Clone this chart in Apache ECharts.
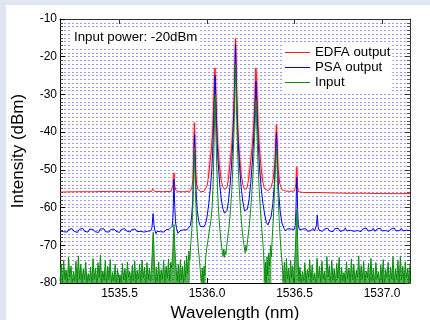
<!DOCTYPE html>
<html><head><meta charset="utf-8">
<script src="https://cdn.jsdelivr.net/npm/echarts@6/dist/echarts.min.js"></script>
<style>
html,body{margin:0;padding:0;background:#dfe6f2;width:430px;height:320px;overflow:hidden;}
#panel{position:absolute;left:6px;top:5px;width:424px;height:315px;background:#fff;}
#chart{position:absolute;left:0;top:0;width:430px;height:320px;}
</style></head>
<body><div id="panel"></div><div id="chart"></div>
<script>
var xTicks = [1535.5, 1536.0, 1536.5, 1537.0];
var yTicks = [-80, -70, -60, -50, -40, -30, -20, -10];
var seriesNames = ['EDFA output', 'PSA output', 'Input'];
var annotation = 'Input power: -20dBm';

var edfa = [[1535.160,-55.9],[1535.250,-55.8],[1535.350,-55.8],[1535.450,-55.7],[1535.550,-55.8],[1535.650,-55.7],[1535.684,-55.7],[1535.689,-55.0],[1535.692,-54.5],[1535.695,-55.2],[1535.700,-55.7],[1535.750,-55.8],[1535.795,-55.7],[1535.802,-55.2],[1535.806,-53.8],[1535.809,-52.0],[1535.811,-50.8],[1535.813,-52.2],[1535.816,-54.3],[1535.821,-55.4],[1535.835,-55.8],[1535.880,-55.8],[1535.905,-55.6],[1535.913,-54.8],[1535.919,-52.5],[1535.923,-48.0],[1535.925,-44.0],[1535.927,-39.5],[1535.928,-37.5],[1535.930,-40.5],[1535.932,-45.0],[1535.935,-50.0],[1535.940,-53.5],[1535.948,-55.2],[1535.965,-55.8],[1535.982,-55.7],[1535.992,-55.3],[1536.000,-54.3],[1536.008,-52.0],[1536.016,-48.5],[1536.025,-44.5],[1536.032,-40.0],[1536.037,-34.0],[1536.041,-28.0],[1536.044,-24.0],[1536.046,-23.0],[1536.048,-25.0],[1536.051,-30.0],[1536.055,-37.0],[1536.061,-43.0],[1536.070,-48.5],[1536.080,-52.5],[1536.090,-54.5],[1536.100,-55.2],[1536.107,-55.3],[1536.113,-54.8],[1536.122,-52.5],[1536.130,-49.0],[1536.140,-44.5],[1536.148,-39.0],[1536.154,-33.0],[1536.158,-26.0],[1536.161,-19.0],[1536.163,-15.2],[1536.165,-19.0],[1536.168,-26.0],[1536.172,-34.0],[1536.178,-41.0],[1536.186,-46.5],[1536.195,-51.0],[1536.205,-54.0],[1536.215,-55.2],[1536.222,-55.3],[1536.228,-54.9],[1536.238,-52.5],[1536.248,-48.5],[1536.258,-44.0],[1536.266,-39.0],[1536.272,-33.0],[1536.276,-27.0],[1536.279,-23.0],[1536.281,-22.6],[1536.283,-25.0],[1536.287,-31.0],[1536.292,-38.0],[1536.299,-44.0],[1536.308,-49.0],[1536.318,-53.0],[1536.328,-55.0],[1536.338,-55.5],[1536.350,-55.5],[1536.365,-54.8],[1536.378,-52.5],[1536.387,-48.5],[1536.392,-44.0],[1536.395,-40.0],[1536.397,-38.0],[1536.399,-40.0],[1536.402,-45.0],[1536.407,-50.0],[1536.415,-53.5],[1536.428,-55.2],[1536.445,-55.6],[1536.470,-55.7],[1536.500,-55.6],[1536.506,-55.2],[1536.509,-53.5],[1536.511,-51.0],[1536.513,-49.3],[1536.515,-51.5],[1536.518,-54.5],[1536.523,-55.8],[1536.550,-56.0],[1536.600,-56.0],[1536.626,-56.0],[1536.630,-55.7],[1536.634,-56.0],[1536.700,-56.1],[1536.800,-56.2],[1536.900,-56.2],[1537.000,-56.3],[1537.100,-56.3],[1537.160,-56.3]];

var psa = [[1535.160,-66.2],[1535.170,-65.7],[1535.180,-66.4],[1535.190,-65.9],[1535.200,-66.5],[1535.210,-65.8],[1535.220,-66.1],[1535.230,-65.6],[1535.240,-66.3],[1535.250,-65.9],[1535.260,-66.6],[1535.270,-65.8],[1535.280,-66.2],[1535.290,-65.5],[1535.300,-66.3],[1535.310,-66.0],[1535.320,-66.5],[1535.330,-65.7],[1535.340,-66.2],[1535.350,-65.8],[1535.360,-66.4],[1535.370,-65.9],[1535.380,-66.6],[1535.390,-65.7],[1535.400,-66.1],[1535.410,-65.6],[1535.420,-66.4],[1535.430,-66.0],[1535.440,-66.5],[1535.450,-65.8],[1535.460,-66.2],[1535.470,-65.7],[1535.480,-66.3],[1535.490,-65.9],[1535.500,-66.6],[1535.510,-65.8],[1535.520,-66.3],[1535.530,-65.6],[1535.540,-66.2],[1535.550,-65.9],[1535.560,-66.5],[1535.570,-65.8],[1535.580,-66.1],[1535.590,-65.7],[1535.600,-66.4],[1535.610,-65.9],[1535.620,-66.3],[1535.630,-65.8],[1535.640,-66.5],[1535.650,-66.0],[1535.660,-66.3],[1535.670,-65.9],[1535.680,-66.1],[1535.685,-65.4],[1535.688,-64.0],[1535.690,-62.4],[1535.692,-61.6],[1535.694,-62.6],[1535.697,-64.6],[1535.702,-66.0],[1535.708,-66.9],[1535.715,-66.3],[1535.725,-65.8],[1535.735,-66.4],[1535.745,-66.0],[1535.755,-66.5],[1535.765,-65.9],[1535.775,-66.3],[1535.785,-65.7],[1535.793,-65.8],[1535.800,-65.0],[1535.804,-63.5],[1535.807,-60.5],[1535.809,-56.0],[1535.811,-52.5],[1535.813,-55.5],[1535.816,-60.0],[1535.820,-63.8],[1535.826,-65.6],[1535.834,-66.8],[1535.845,-66.2],[1535.855,-66.5],[1535.865,-65.9],[1535.875,-66.3],[1535.885,-65.9],[1535.895,-65.6],[1535.905,-64.8],[1535.912,-62.5],[1535.918,-58.5],[1535.922,-53.0],[1535.925,-47.0],[1535.927,-42.0],[1535.929,-40.5],[1535.931,-44.0],[1535.934,-50.0],[1535.938,-56.0],[1535.944,-60.5],[1535.952,-63.5],[1535.962,-65.0],[1535.972,-65.4],[1535.982,-65.1],[1535.992,-64.3],[1536.000,-62.5],[1536.010,-59.0],[1536.020,-54.5],[1536.028,-49.5],[1536.034,-43.5],[1536.039,-36.0],[1536.043,-29.0],[1536.046,-25.0],[1536.049,-29.0],[1536.053,-36.0],[1536.058,-43.0],[1536.065,-49.0],[1536.073,-54.0],[1536.082,-58.0],[1536.092,-60.5],[1536.100,-61.5],[1536.107,-61.4],[1536.114,-60.8],[1536.122,-58.5],[1536.131,-54.5],[1536.140,-49.0],[1536.148,-42.0],[1536.154,-34.0],[1536.158,-27.0],[1536.161,-20.5],[1536.163,-16.8],[1536.165,-20.5],[1536.168,-27.0],[1536.172,-35.0],[1536.178,-42.5],[1536.186,-49.0],[1536.195,-54.5],[1536.205,-58.5],[1536.214,-60.8],[1536.222,-61.3],[1536.230,-60.5],[1536.240,-58.0],[1536.250,-53.5],[1536.259,-48.0],[1536.267,-41.5],[1536.273,-35.0],[1536.277,-30.0],[1536.280,-26.5],[1536.283,-30.0],[1536.287,-36.0],[1536.293,-43.0],[1536.300,-49.5],[1536.310,-55.0],[1536.320,-59.0],[1536.330,-62.0],[1536.340,-64.0],[1536.348,-64.6],[1536.356,-64.3],[1536.366,-62.5],[1536.376,-59.0],[1536.384,-54.5],[1536.390,-48.5],[1536.394,-43.0],[1536.397,-40.0],[1536.400,-44.0],[1536.404,-50.0],[1536.410,-56.0],[1536.418,-61.0],[1536.428,-64.0],[1536.440,-65.5],[1536.450,-66.2],[1536.460,-65.6],[1536.470,-66.1],[1536.480,-65.7],[1536.490,-66.2],[1536.498,-65.8],[1536.504,-64.8],[1536.508,-61.0],[1536.511,-55.5],[1536.513,-52.0],[1536.515,-55.0],[1536.518,-60.5],[1536.522,-64.5],[1536.528,-65.9],[1536.535,-66.4],[1536.545,-65.7],[1536.555,-66.2],[1536.565,-65.6],[1536.575,-66.3],[1536.585,-65.8],[1536.595,-66.1],[1536.605,-65.5],[1536.615,-66.2],[1536.622,-65.8],[1536.626,-64.6],[1536.628,-63.2],[1536.630,-62.0],[1536.632,-63.0],[1536.635,-65.0],[1536.640,-66.0],[1536.650,-65.6],[1536.660,-66.3],[1536.670,-65.7],[1536.680,-66.1],[1536.690,-65.5],[1536.700,-66.2],[1536.710,-65.8],[1536.720,-66.4],[1536.730,-65.6],[1536.740,-66.0],[1536.750,-65.5],[1536.760,-66.3],[1536.770,-65.8],[1536.780,-66.1],[1536.790,-65.4],[1536.800,-66.2],[1536.810,-65.7],[1536.820,-66.0],[1536.830,-65.5],[1536.840,-66.3],[1536.850,-65.8],[1536.860,-66.1],[1536.870,-65.6],[1536.880,-66.4],[1536.890,-65.7],[1536.900,-66.0],[1536.910,-65.4],[1536.920,-66.2],[1536.930,-65.8],[1536.940,-66.1],[1536.950,-65.5],[1536.960,-66.3],[1536.970,-65.7],[1536.980,-66.0],[1536.990,-65.5],[1537.000,-66.2],[1537.010,-65.8],[1537.020,-66.1],[1537.030,-65.6],[1537.040,-66.3],[1537.050,-65.7],[1537.060,-66.0],[1537.070,-65.4],[1537.080,-66.2],[1537.090,-65.8],[1537.100,-66.1],[1537.110,-65.5],[1537.120,-66.2],[1537.130,-65.7],[1537.140,-66.0],[1537.150,-65.6],[1537.160,-66.1]];

var input = [[1535.160,-79.5],[1535.167,-75.2],[1535.174,-80],[1535.181,-74.0],[1535.188,-79],[1535.195,-76.5],[1535.202,-80],[1535.209,-73.2],[1535.216,-78.5],[1535.223,-75.5],[1535.230,-80],[1535.237,-77.0],[1535.244,-79.5],[1535.251,-74.2],[1535.258,-80],[1535.265,-72.8],[1535.272,-79],[1535.279,-75.0],[1535.286,-80],[1535.293,-76.2],[1535.300,-78.8],[1535.307,-74.5],[1535.314,-80],[1535.321,-77.5],[1535.328,-79.5],[1535.335,-75.8],[1535.342,-80],[1535.349,-73.5],[1535.356,-79],[1535.363,-76.0],[1535.370,-80],[1535.377,-74.6],[1535.384,-78.5],[1535.391,-72.6],[1535.398,-80],[1535.405,-76.8],[1535.412,-79.3],[1535.419,-74.0],[1535.426,-80],[1535.433,-75.6],[1535.440,-78.8],[1535.447,-73.8],[1535.454,-80],[1535.461,-77.2],[1535.468,-79.5],[1535.475,-75.0],[1535.482,-80],[1535.489,-76.4],[1535.496,-78.6],[1535.503,-77.8],[1535.510,-80],[1535.517,-74.8],[1535.524,-79.2],[1535.531,-76.2],[1535.538,-80],[1535.545,-74.4],[1535.552,-78.5],[1535.559,-77.0],[1535.566,-80],[1535.573,-75.3],[1535.580,-79.4],[1535.587,-74.1],[1535.594,-80],[1535.601,-76.6],[1535.608,-79],[1535.615,-75.0],[1535.622,-80],[1535.629,-73.9],[1535.636,-78.6],[1535.643,-75.8],[1535.650,-80],[1535.657,-74.6],[1535.664,-79],[1535.671,-76.0],[1535.678,-79.5],[1535.684,-75.0],[1535.688,-71.0],[1535.691,-67.5],[1535.693,-66.5],[1535.695,-68.5],[1535.698,-73.0],[1535.702,-77.5],[1535.706,-80],[1535.710,-75.8],[1535.717,-79.5],[1535.724,-74.4],[1535.731,-80],[1535.738,-76.5],[1535.745,-79],[1535.752,-74.0],[1535.759,-80],[1535.766,-75.5],[1535.773,-78.8],[1535.780,-73.6],[1535.787,-79.5],[1535.793,-74.5],[1535.798,-76.0],[1535.803,-73.0],[1535.806,-70.0],[1535.809,-66.5],[1535.811,-64.5],[1535.813,-66.5],[1535.816,-70.5],[1535.820,-74.0],[1535.825,-77.0],[1535.830,-79.5],[1535.836,-75.0],[1535.842,-80],[1535.848,-73.8],[1535.854,-79],[1535.860,-75.6],[1535.866,-80],[1535.872,-74.2],[1535.878,-78.5],[1535.884,-72.8],[1535.890,-77.5],[1535.896,-71.5],[1535.902,-74.0],[1535.908,-69.0],[1535.913,-66.0],[1535.918,-61.0],[1535.922,-55.0],[1535.925,-49.0],[1535.928,-44.0],[1535.931,-49.0],[1535.934,-55.5],[1535.938,-61.0],[1535.943,-66.0],[1535.950,-70.5],[1535.957,-74.0],[1535.963,-77.5],[1535.968,-79.5],[1535.973,-76.0],[1535.978,-80],[1535.983,-75.5],[1535.988,-78.0],[1535.993,-73.0],[1535.998,-71.0],[1536.006,-68.5],[1536.014,-66.0],[1536.022,-63.5],[1536.029,-60.0],[1536.034,-55.0],[1536.038,-48.0],[1536.042,-39.0],[1536.044,-34.0],[1536.046,-30.0],[1536.048,-33.5],[1536.051,-40.0],[1536.055,-48.0],[1536.060,-55.0],[1536.066,-61.0],[1536.073,-65.5],[1536.080,-69.0],[1536.087,-71.5],[1536.092,-73.0],[1536.096,-71.0],[1536.100,-73.2],[1536.104,-71.5],[1536.108,-72.5],[1536.112,-70.5],[1536.118,-68.0],[1536.126,-65.0],[1536.134,-61.0],[1536.141,-56.0],[1536.147,-50.0],[1536.152,-43.0],[1536.156,-36.0],[1536.159,-29.0],[1536.161,-25.0],[1536.163,-22.0],[1536.165,-25.0],[1536.168,-31.0],[1536.171,-38.0],[1536.175,-45.0],[1536.180,-51.0],[1536.186,-56.5],[1536.193,-61.5],[1536.200,-65.5],[1536.207,-68.5],[1536.213,-70.5],[1536.218,-72.0],[1536.222,-70.0],[1536.226,-71.5],[1536.232,-68.5],[1536.240,-65.5],[1536.248,-61.5],[1536.255,-57.0],[1536.262,-52.0],[1536.268,-46.0],[1536.273,-40.0],[1536.277,-35.0],[1536.280,-31.5],[1536.283,-35.5],[1536.287,-42.0],[1536.292,-49.0],[1536.298,-55.0],[1536.305,-60.5],[1536.312,-65.0],[1536.318,-68.5],[1536.323,-72.0],[1536.327,-75.0],[1536.331,-79.5],[1536.335,-74.5],[1536.339,-80],[1536.343,-73.0],[1536.347,-78.0],[1536.352,-72.0],[1536.358,-75.5],[1536.363,-70.0],[1536.368,-73.0],[1536.373,-67.5],[1536.378,-64.0],[1536.383,-59.0],[1536.387,-54.0],[1536.391,-49.0],[1536.394,-46.0],[1536.397,-44.0],[1536.400,-47.0],[1536.403,-52.0],[1536.407,-57.5],[1536.412,-63.0],[1536.418,-68.0],[1536.424,-72.0],[1536.430,-75.0],[1536.436,-79.5],[1536.442,-74.5],[1536.448,-80],[1536.454,-73.5],[1536.460,-79],[1536.466,-76.0],[1536.472,-80],[1536.478,-74.0],[1536.484,-78.6],[1536.490,-75.5],[1536.496,-80],[1536.501,-74.0],[1536.505,-71.0],[1536.508,-67.0],[1536.511,-62.5],[1536.513,-60.5],[1536.515,-63.0],[1536.518,-68.5],[1536.521,-74.0],[1536.525,-79.5],[1536.531,-75.8],[1536.538,-80],[1536.545,-77.0],[1536.552,-79.5],[1536.559,-74.6],[1536.566,-80],[1536.573,-76.4],[1536.580,-78.5],[1536.587,-73.8],[1536.594,-80],[1536.601,-75.2],[1536.608,-79.2],[1536.615,-77.4],[1536.622,-80],[1536.629,-73.4],[1536.636,-78.6],[1536.643,-75.6],[1536.650,-80],[1536.657,-74.2],[1536.664,-79],[1536.671,-76.8],[1536.678,-80],[1536.685,-73.0],[1536.692,-78.4],[1536.699,-75.4],[1536.706,-80],[1536.713,-74.0],[1536.720,-79.3],[1536.727,-76.2],[1536.734,-80],[1536.741,-74.8],[1536.748,-78.7],[1536.755,-73.2],[1536.762,-80],[1536.769,-75.8],[1536.776,-79.5],[1536.783,-77.2],[1536.790,-80],[1536.797,-74.4],[1536.804,-78.8],[1536.811,-76.0],[1536.818,-80],[1536.825,-73.6],[1536.832,-79.2],[1536.839,-75.0],[1536.846,-80],[1536.853,-76.6],[1536.860,-78.5],[1536.867,-72.8],[1536.874,-80],[1536.881,-75.4],[1536.888,-79],[1536.895,-74.2],[1536.902,-80],[1536.909,-76.8],[1536.916,-78.6],[1536.923,-74.8],[1536.930,-80],[1536.937,-73.5],[1536.944,-79.4],[1536.951,-76.0],[1536.958,-80],[1536.965,-74.6],[1536.972,-78.8],[1536.979,-77.0],[1536.986,-80],[1536.993,-75.2],[1537.000,-79.2],[1537.007,-73.8],[1537.014,-80],[1537.021,-76.4],[1537.028,-78.5],[1537.035,-74.5],[1537.042,-80],[1537.049,-75.8],[1537.056,-79],[1537.063,-73.0],[1537.070,-80],[1537.077,-76.2],[1537.084,-78.8],[1537.091,-74.0],[1537.098,-80],[1537.105,-72.8],[1537.112,-79.2],[1537.119,-75.6],[1537.126,-80],[1537.133,-74.4],[1537.140,-78.6],[1537.147,-76.0],[1537.154,-80],[1537.160,-74.8]];

// noise-floor stretches of the Input trace that look filled in the original
var floorRanges = [[1535.150, 1535.906], [1535.962, 1535.996], [1536.322, 1536.372], [1536.429, 1537.170]];

var FONT = '"Liberation Sans", Arial, sans-serif';
var gridDash = {color: '#9a9aee', type: [2, 2], width: 1};
var RED = '#ff1a1a', BLUE = '#0000ee', GREEN = '#0a8f0a';

function inRanges(x) {
  for (var i = 0; i < floorRanges.length; i++) {
    if (x >= floorRanges[i][0] && x <= floorRanges[i][1]) return true;
  }
  return false;
}
var inputFloor = input.map(function (p) { return inRanges(p[0]) ? p : [p[0], '-']; });
var edfaHalo = edfa.map(function (p) { return p[1] > -54 ? p : [p[0], '-']; });

var chart = echarts.init(document.getElementById('chart'), null, {renderer: 'canvas'});
var xMin = 1535.16, xMax = 1537.16;
chart.setOption({
  animation: false,
  textStyle: {fontFamily: FONT},
  title: {
    text: annotation, left: 71, top: 28, padding: [3, 3, 2, 3], backgroundColor: '#fff',
    textStyle: {fontSize: 13.3, fontWeight: 'normal', color: '#000', fontFamily: FONT}
  },
  legend: {
    data: seriesNames, orient: 'vertical', left: 283, top: 44, padding: [1, 2, 1, 2],
    backgroundColor: '#fff', icon: 'rect', itemWidth: 25, itemHeight: 1, itemGap: 0,
    textStyle: {fontSize: 13.3, lineHeight: 15, color: '#000', fontFamily: FONT, padding: [0, 0, 0, 0]}
  },
  grid: {left: 60, right: 20, top: 19, bottom: 37, containLabel: false, outerBoundsMode: 'none'},
  xAxis: [{
    type: 'value', min: xMin, max: xMax, position: 'bottom',
    name: 'Wavelength (nm)', nameLocation: 'middle', nameGap: 20,
    nameTextStyle: {fontSize: 17, color: '#000', fontFamily: FONT},
    axisLine: {show: true, lineStyle: {color: '#000', width: 1}},
    axisTick: {show: true, inside: true, length: 5, customValues: xTicks, lineStyle: {color: '#000'}},
    axisLabel: {customValues: xTicks, fontSize: 12, color: '#000', margin: 5, fontFamily: FONT,
      formatter: function (v) { return v.toFixed(1); }},
    splitLine: {show: false}
  }, {
    type: 'value', min: xMin, max: xMax, position: 'top',
    axisLine: {show: true, lineStyle: {color: '#333', width: 1}},
    axisTick: {show: true, inside: true, length: 5, customValues: xTicks, lineStyle: {color: '#333'}},
    axisLabel: {show: false}, splitLine: {show: false}
  }],
  yAxis: [{
    type: 'value', min: yTicks[0], max: yTicks[yTicks.length - 1], interval: 10, position: 'left',
    name: 'Intensity (dBm)', nameLocation: 'middle', nameGap: 33,
    nameTextStyle: {fontSize: 17, color: '#000', fontFamily: FONT},
    axisLine: {show: true, lineStyle: {color: '#000', width: 1}},
    axisTick: {show: true, inside: true, length: 5, lineStyle: {color: '#000'}},
    minorTick: {show: true, splitNumber: 10, length: 3, lineStyle: {color: '#444'}},
    axisLabel: {fontSize: 12, color: '#000', margin: 3, fontFamily: FONT},
    splitLine: {show: true, lineStyle: gridDash},
    minorSplitLine: {show: true, lineStyle: gridDash}
  }, {
    type: 'value', min: yTicks[0], max: yTicks[yTicks.length - 1], interval: 10, position: 'right',
    axisLine: {show: true, lineStyle: {color: '#333', width: 1}},
    axisTick: {show: true, inside: true, length: 5, lineStyle: {color: '#333'}},
    minorTick: {show: true, splitNumber: 10, length: 3, lineStyle: {color: '#555'}},
    axisLabel: {show: false}, splitLine: {show: false}
  }],
  series: [
    {name: 'edfaHalo', type: 'line', data: edfaHalo, symbol: 'none', connectNulls: false,
      lineStyle: {color: 'rgba(255,90,90,0.35)', width: 3.5}, clip: true, z: 2, silent: true},
    {name: 'inputFloor', type: 'line', data: inputFloor, symbol: 'none', connectNulls: false,
      lineStyle: {width: 0, opacity: 0}, areaStyle: {color: GREEN, opacity: 0.7, origin: 'start'},
      clip: true, z: 2, silent: true},
    {name: seriesNames[0], type: 'line', data: edfa, symbol: 'none', showSymbol: false,
      lineStyle: {color: RED, width: 1}, itemStyle: {color: RED}, clip: true, z: 3},
    {name: seriesNames[1], type: 'line', data: psa, symbol: 'none', showSymbol: false,
      lineStyle: {color: BLUE, width: 1}, itemStyle: {color: BLUE}, clip: true, z: 4},
    {name: seriesNames[2], type: 'line', data: input, symbol: 'none', showSymbol: false,
      lineStyle: {color: GREEN, width: 1}, itemStyle: {color: GREEN}, clip: true, z: 5}
  ]
});
</script>
</body></html>
